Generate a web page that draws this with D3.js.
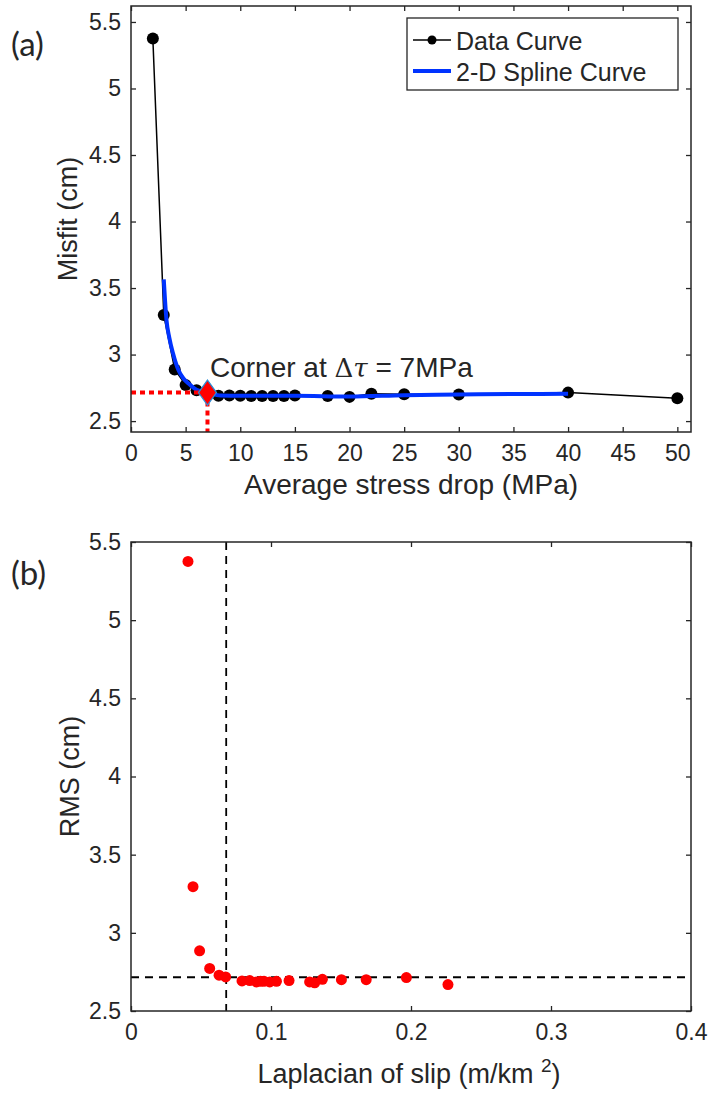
<!DOCTYPE html>
<html>
<head>
<meta charset="utf-8">
<script src="https://cdn.jsdelivr.net/npm/d3@7"></script>
<style>
  body { margin: 0; background: #fff; }
  svg { display: block; }
  text { font-family: "Liberation Sans", Arial, Helvetica, sans-serif; fill: #262626; }
</style>
</head>
<body>
<div id="chart"></div>
<script>
// panel (a): misfit vs average stress drop
const stressDrop = [2, 3, 4, 5, 6, 7, 8, 9, 10, 11, 12, 13, 14, 15, 18, 20, 22, 25, 30, 40, 50];
const misfit = [5.375, 3.297, 2.888, 2.772, 2.732, 2.716, 2.690, 2.692, 2.690, 2.689, 2.689,
                2.688, 2.688, 2.692, 2.688, 2.682, 2.705, 2.702, 2.700, 2.714, 2.671];
// 2-D spline curve
const splineX = [3.0, 3.25, 3.5, 3.85, 4.35, 4.8, 5.3, 6.0, 7.0, 8.2, 10, 15, 20, 25, 30, 35, 40];
const splineY = [3.565, 3.258, 3.13, 3.008, 2.882, 2.82, 2.78, 2.735, 2.714, 2.692, 2.690,
                 2.690, 2.684, 2.695, 2.700, 2.703, 2.706];
// panel (b): RMS vs laplacian of slip
const laplacian = [0.0407, 0.0443, 0.0490, 0.0562, 0.0629, 0.0676, 0.0793, 0.0848, 0.0896, 0.0925, 0.0950,
                   0.0991, 0.1039, 0.1129, 0.1276, 0.1312, 0.1367, 0.1503, 0.1680, 0.1967, 0.2264];
const rms = [5.376, 3.295, 2.885, 2.772, 2.729, 2.718, 2.692, 2.695, 2.686, 2.690, 2.690,
             2.686, 2.690, 2.695, 2.686, 2.680, 2.703, 2.700, 2.700, 2.714, 2.669];
const cornerStress = 7, cornerMisfit = 2.714;
const cornerLaplacian = 0.068, cornerRms = 2.716;

const xTicksA = [0, 5, 10, 15, 20, 25, 30, 35, 40, 45, 50];
const yTicksA = [2.5, 3, 3.5, 4, 4.5, 5, 5.5];
const xTicksB = [0, 0.1, 0.2, 0.3, 0.4];
const yTicksB = [2.5, 3, 3.5, 4, 4.5, 5, 5.5];

const W = 711, H = 1095;
const axisColor = "#262626";

const svg = d3.select("#chart").append("svg")
    .attr("width", W)
    .attr("height", H);

// draws box + inward ticks on all four sides
function makeAxes(box, x, y, xTicks, yTicks) {
  const g = svg.append("g");
  const tick = 5;

  const bottom = g.append("g")
      .attr("transform", "translate(0," + box.bottom + ")")
      .call(d3.axisBottom(x).tickValues(xTicks).tickSize(-tick).tickSizeOuter(0)
            .tickPadding(13).tickFormat(d3.format("")));
  const top = g.append("g")
      .attr("transform", "translate(0," + box.top + ")")
      .call(d3.axisTop(x).tickValues(xTicks).tickSize(-tick).tickSizeOuter(0).tickFormat(""));
  const left = g.append("g")
      .attr("transform", "translate(" + box.left + ",0)")
      .call(d3.axisLeft(y).tickValues(yTicks).tickSize(-tick).tickSizeOuter(0)
            .tickPadding(10).tickFormat(d3.format("")));
  const right = g.append("g")
      .attr("transform", "translate(" + box.right + ",0)")
      .call(d3.axisRight(y).tickValues(yTicks).tickSize(-tick).tickSizeOuter(0).tickFormat(""));

  [bottom, top, left, right].forEach(a => {
    a.select(".domain").remove();
    a.selectAll(".tick line").attr("stroke", axisColor).attr("stroke-width", 1.3);
    a.selectAll(".tick text")
        .attr("fill", axisColor)
        .style("font-size", "23px")
        .style("font-family", "'Liberation Sans', Arial, Helvetica, sans-serif");
  });

  g.append("rect")
      .attr("x", box.left).attr("y", box.top)
      .attr("width", box.right - box.left).attr("height", box.bottom - box.top)
      .attr("fill", "none")
      .attr("stroke", axisColor)
      .attr("stroke-width", 1.5);
  return g;
}

// ---------- panel (a) ----------
const boxA = { left: 131, right: 691, top: 6, bottom: 432 };
const xA = d3.scaleLinear().domain([0, 51.25]).range([boxA.left, boxA.right]);
const yA = d3.scaleLinear().domain([2.418, 5.62]).range([boxA.bottom, boxA.top]);

const plotA = svg.append("g");
const dataA = stressDrop.map((d, i) => ({ x: d, y: misfit[i] }));
const splineA = splineX.map((d, i) => ({ x: d, y: splineY[i] }));

plotA.append("path")
    .datum(dataA)
    .attr("fill", "none")
    .attr("stroke", "#000")
    .attr("stroke-width", 1.5)
    .attr("d", d3.line().x(d => xA(d.x)).y(d => yA(d.y)));

plotA.selectAll(".pt")
    .data(dataA)
    .enter().append("circle")
    .attr("class", "pt")
    .attr("cx", d => xA(d.x))
    .attr("cy", d => yA(d.y))
    .attr("r", 6)
    .attr("fill", "#000");

plotA.append("path")
    .datum(splineA)
    .attr("fill", "none")
    .attr("stroke", "#0033ff")
    .attr("stroke-width", 4)
    .attr("d", d3.line().x(d => xA(d.x)).y(d => yA(d.y)).curve(d3.curveMonotoneX));

// red dotted guide lines to the corner
plotA.append("line")
    .attr("x1", xA(0)).attr("x2", xA(cornerStress))
    .attr("y1", yA(cornerMisfit)).attr("y2", yA(cornerMisfit))
    .attr("stroke", "#ff0000").attr("stroke-width", 4).attr("stroke-dasharray", "5,4");
plotA.append("line")
    .attr("x1", xA(cornerStress)).attr("x2", xA(cornerStress))
    .attr("y1", yA(cornerMisfit)).attr("y2", boxA.bottom)
    .attr("stroke", "#ff0000").attr("stroke-width", 4).attr("stroke-dasharray", "5,4");

// corner diamond
const cx = xA(cornerStress), cy = yA(cornerMisfit);
plotA.append("path")
    .attr("d", `M${cx},${cy - 12.5}L${cx + 9},${cy}L${cx},${cy + 12.5}L${cx - 9},${cy}Z`)
    .attr("fill", "#ff0000")
    .attr("stroke", "#2a8fd8")
    .attr("stroke-width", 1.2);

const corner = plotA.append("text")
    .attr("x", 210)
    .attr("y", 377)
    .style("font-size", "28px")
    .attr("fill", "#000");
corner.append("tspan").text("Corner at ");
corner.append("tspan").style("font-family", "'DejaVu Serif', serif").style("font-size", "26px").text("Δ");
corner.append("tspan").style("font-family", "'DejaVu Serif', serif").style("font-style", "italic")
    .style("font-size", "26px").text("τ");
corner.append("tspan").text(" = 7MPa");

makeAxes(boxA, xA, yA, xTicksA, yTicksA);

// legend
const leg = svg.append("g");
leg.append("rect")
    .attr("x", 407).attr("y", 18)
    .attr("width", 271).attr("height", 72)
    .attr("fill", "#fff")
    .attr("stroke", axisColor)
    .attr("stroke-width", 1.3);
leg.append("line")
    .attr("x1", 413).attr("x2", 451).attr("y1", 40).attr("y2", 40)
    .attr("stroke", "#000").attr("stroke-width", 1.5);
leg.append("circle").attr("cx", 432).attr("cy", 40).attr("r", 4.5).attr("fill", "#000");
leg.append("line")
    .attr("x1", 413).attr("x2", 451).attr("y1", 71).attr("y2", 71)
    .attr("stroke", "#0033ff").attr("stroke-width", 4);
leg.append("text").attr("x", 456).attr("y", 49.5).style("font-size", "25px").attr("fill", "#000")
    .text("Data Curve");
leg.append("text").attr("x", 456).attr("y", 80.5).style("font-size", "25px").attr("fill", "#000")
    .text("2-D Spline Curve");

svg.append("text")
    .attr("x", 411)
    .attr("y", 494)
    .attr("text-anchor", "middle")
    .style("font-size", "28px")
    .text("Average stress drop (MPa)");

svg.append("text")
    .attr("transform", "translate(77," + (boxA.top + boxA.bottom) / 2 + ") rotate(-90)")
    .attr("text-anchor", "middle")
    .style("font-size", "27px")
    .text("Misfit (cm)");

// ---------- panel (b) ----------
const boxB = { left: 131, right: 691, top: 542, bottom: 1011 };
const xB = d3.scaleLinear().domain([0, 0.4]).range([boxB.left, boxB.right]);
const yB = d3.scaleLinear().domain([2.5, 5.5]).range([boxB.bottom, boxB.top]);

const plotB = svg.append("g");
plotB.append("line")
    .attr("x1", boxB.left).attr("x2", boxB.right)
    .attr("y1", yB(cornerRms)).attr("y2", yB(cornerRms))
    .attr("stroke", "#000").attr("stroke-width", 1.8).attr("stroke-dasharray", "8,6");
plotB.append("line")
    .attr("x1", xB(cornerLaplacian)).attr("x2", xB(cornerLaplacian))
    .attr("y1", boxB.top).attr("y2", boxB.bottom)
    .attr("stroke", "#000").attr("stroke-width", 1.8).attr("stroke-dasharray", "8,6");

plotB.selectAll(".pt")
    .data(laplacian.map((d, i) => ({ x: d, y: rms[i] })))
    .enter().append("circle")
    .attr("class", "pt")
    .attr("cx", d => xB(d.x))
    .attr("cy", d => yB(d.y))
    .attr("r", 5.5)
    .attr("fill", "#ff0000");

makeAxes(boxB, xB, yB, xTicksB, yTicksB);

const xlabB = svg.append("text")
    .attr("x", 409)
    .attr("y", 1083)
    .attr("text-anchor", "middle")
    .style("font-size", "27px");
xlabB.append("tspan").text("Laplacian of slip (m/km ");
xlabB.append("tspan").attr("dy", -11).style("font-size", "19px").text("2");
xlabB.append("tspan").attr("dy", 11).text(")");

svg.append("text")
    .attr("transform", "translate(79," + (boxB.top + boxB.bottom) / 2 + ") rotate(-90)")
    .attr("text-anchor", "middle")
    .style("font-size", "27px")
    .text("RMS (cm)");

// panel labels
svg.append("text").attr("x", 11).attr("y", 56)
    .style("font-family", "Lato, 'Open Sans', sans-serif").style("font-size", "33px").attr("fill", "#000")
    .text("(a)");
svg.append("text").attr("x", 11).attr("y", 585)
    .style("font-family", "Lato, 'Open Sans', sans-serif").style("font-size", "33px").attr("fill", "#000")
    .text("(b)");
</script>
</body>
</html>
